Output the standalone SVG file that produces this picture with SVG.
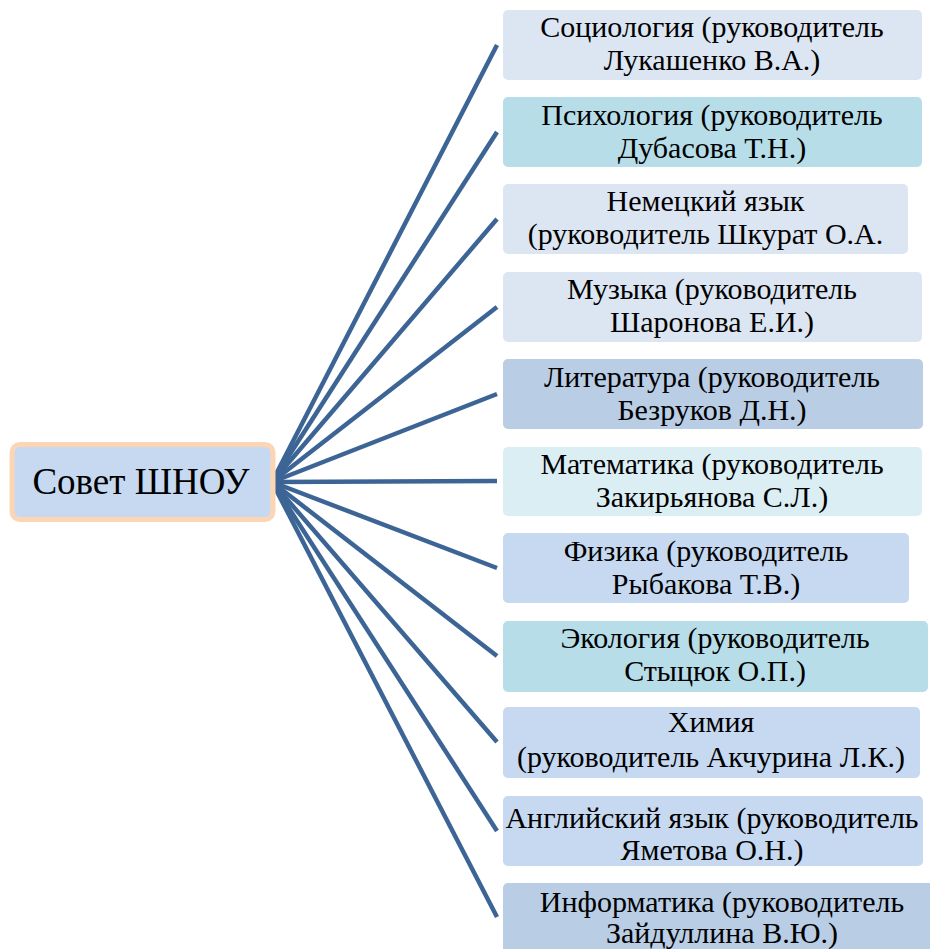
<svg xmlns="http://www.w3.org/2000/svg" width="930" height="949" viewBox="0 0 930 949">
<style>
text{font-family:'Liberation Serif','Times New Roman','DejaVu Serif',serif}
.t{font-size:30px;fill:#000;text-anchor:middle}
.c{stroke:#3c6595;stroke-width:4.5;fill:none;stroke-linecap:butt}
</style>
<rect width="930" height="949" fill="#fff"/>
<g id="connectors">
<line class="c" x1="272" y1="482" x2="497" y2="45"/>
<line class="c" x1="272" y1="482" x2="497" y2="132"/>
<line class="c" x1="272" y1="482" x2="497" y2="219"/>
<line class="c" x1="272" y1="482" x2="497" y2="307"/>
<line class="c" x1="272" y1="482" x2="497" y2="394"/>
<line class="c" x1="272" y1="482" x2="497" y2="481"/>
<line class="c" x1="272" y1="482" x2="497" y2="568"/>
<line class="c" x1="272" y1="482" x2="497" y2="656"/>
<line class="c" x1="272" y1="482" x2="497" y2="742"/>
<line class="c" x1="272" y1="482" x2="497" y2="831"/>
<line class="c" x1="272" y1="482" x2="497" y2="917"/>
</g>
<g id="root">
<rect x="12" y="444.5" width="261" height="75" rx="8" fill="#c6d9f1" stroke="#fcd5b5" stroke-width="5"/>
<text class="t" x="141" y="494" style="font-size:37px">Совет ШНОУ</text>
</g>
<g id="n1">
<rect x="503" y="10" width="419" height="70" rx="5" fill="#dce6f2"/>
<text class="t" x="712" y="37">Социология (руководитель</text>
<text class="t" x="712" y="70">Лукашенко В.А.)</text>
</g>
<g id="n2">
<rect x="503" y="97" width="419" height="70" rx="5" fill="#b7dde8"/>
<text class="t" x="712" y="125">Психология (руководитель</text>
<text class="t" x="712" y="158">Дубасова Т.Н.)</text>
</g>
<g id="n3">
<rect x="503" y="184" width="405" height="70" rx="5" fill="#dce6f2"/>
<text class="t" x="705.5" y="211">Немецкий язык</text>
<text class="t" x="705.5" y="244">(руководитель Шкурат О.А.</text>
</g>
<g id="n4">
<rect x="503" y="272" width="419" height="70" rx="5" fill="#dce6f2"/>
<text class="t" x="712" y="299">Музыка (руководитель</text>
<text class="t" x="712" y="332">Шаронова Е.И.)</text>
</g>
<g id="n5">
<rect x="503" y="359" width="420" height="70" rx="5" fill="#b9cde5"/>
<text class="t" x="712" y="387">Литература (руководитель</text>
<text class="t" x="712" y="420">Безруков Д.Н.)</text>
</g>
<g id="n6">
<rect x="503" y="447" width="419" height="69" rx="5" fill="#dbeef4"/>
<text class="t" x="712" y="474">Математика (руководитель</text>
<text class="t" x="712" y="507">Закирьянова С.Л.)</text>
</g>
<g id="n7">
<rect x="503" y="533" width="406" height="70" rx="5" fill="#c6d9f1"/>
<text class="t" x="706" y="561">Физика (руководитель</text>
<text class="t" x="706" y="594">Рыбакова Т.В.)</text>
</g>
<g id="n8">
<rect x="503" y="621" width="425" height="71" rx="5" fill="#b7dde8"/>
<text class="t" x="715" y="648">Экология (руководитель</text>
<text class="t" x="715" y="681">Стыцюк О.П.)</text>
</g>
<g id="n9">
<rect x="503" y="707" width="417" height="71" rx="5" fill="#c6d9f1"/>
<text class="t" x="711" y="732">Химия</text>
<text class="t" x="711" y="767">(руководитель Акчурина Л.К.)</text>
</g>
<g id="n10">
<rect x="503" y="796" width="420" height="70" rx="5" fill="#c6d9f1"/>
<text class="t" x="712" y="828">Английский язык (руководитель</text>
<text class="t" x="712" y="860">Яметова О.Н.)</text>
</g>
<g id="n11">
<rect x="503" y="883" width="432" height="75" rx="5" fill="#b9cde5"/>
<text class="t" x="722" y="912">Информатика (руководитель</text>
<text class="t" x="722" y="943">Зайдуллина В.Ю.)</text>
</g>
</svg>
